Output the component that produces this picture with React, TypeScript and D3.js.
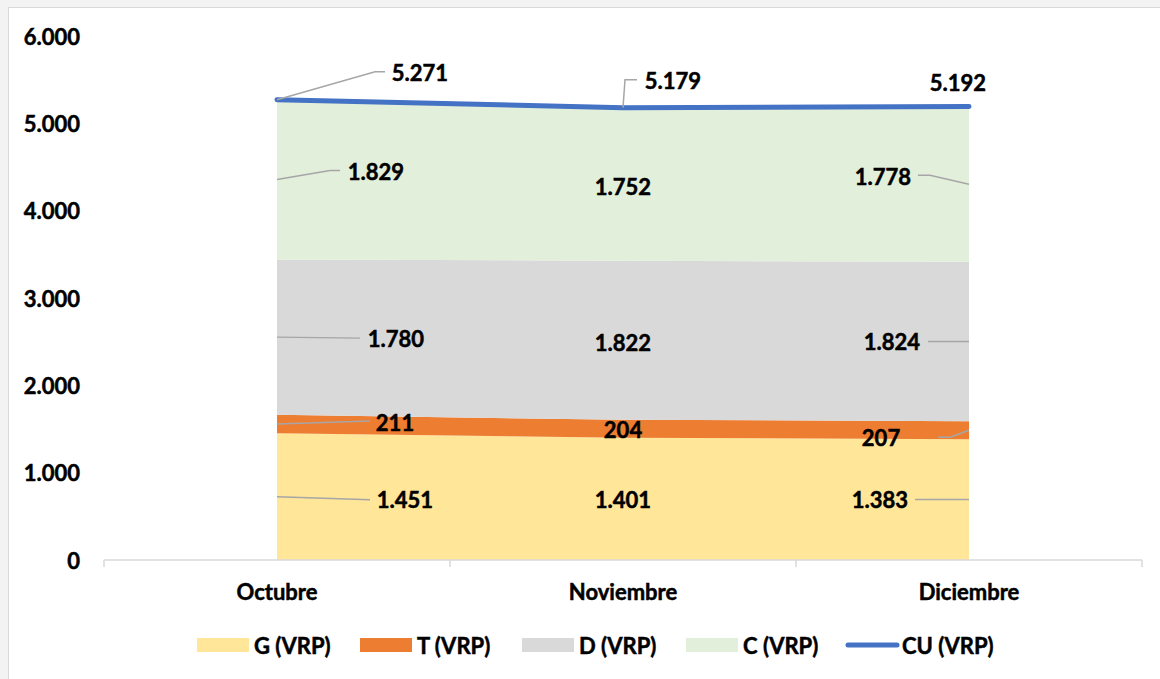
import React, { useEffect, useRef } from "react";
import * as d3 from "d3";

const categories = ["Octubre", "Noviembre", "Diciembre"];
const seriesNames = ["G (VRP)", "T (VRP)", "D (VRP)", "C (VRP)"];
const gValues = [1451, 1401, 1383];
const tValues = [211, 204, 207];
const dValues = [1780, 1822, 1824];
const cValues = [1829, 1752, 1778];
const cuValues = [5271, 5179, 5192];
const cuName = "CU (VRP)";
const yTicks = [0, 1000, 2000, 3000, 4000, 5000, 6000];

const areaColors = ["#FFE699", "#ED7D31", "#D9D9D9", "#E2EFDA"];
const lineColor = "#4472C4";

// label offsets relative to anchor (category x, segment middle y)
type LL = { dx: number; dy: number; leader: number[][] | null };
const labelLayout: LL[][] = [
  [
    { dx: 128, dy: 3, leader: [[0, 0], [93, 3]] },
    { dx: 0, dy: 1, leader: null },
    { dx: -89, dy: 0, leader: [[0, 0], [-54, 0]] },
  ],
  [
    { dx: 118, dy: -2, leader: [[0, 0], [93, -3]] },
    { dx: 0, dy: 1, leader: null },
    { dx: -88, dy: 7, leader: [[0, 0], [-19, 7], [-31, 7]] },
  ],
  [
    { dx: 119, dy: 1, leader: [[0, 0], [83, 1]] },
    { dx: 0, dy: 2, leader: null },
    { dx: -77, dy: 0, leader: [[0, 0], [-41, 0]] },
  ],
  [
    { dx: 99, dy: -8, leader: [[0, 0], [53, -9], [63, -9]] },
    { dx: 0, dy: 2, leader: null },
    { dx: -86, dy: -8, leader: [[0, 0], [-39, -9], [-51, -9]] },
  ],
];
const cuLabelLayout: LL[] = [
  { dx: 143, dy: -27, leader: [[0, 0], [98, -28], [108, -28]] },
  { dx: 50, dy: -27, leader: [[0, 0], [2, -28], [14, -28]] },
  { dx: -11, dy: -24, leader: null },
];

const W = 1160;
const H = 679;
const FONT = "Lato, 'Open Sans', sans-serif";

const fmt = (v: number) => {
  const s = Math.round(v).toString();
  return s.replace(/\B(?=(\d{3})+(?!\d))/g, ".");
};

const styleText = (sel: any) =>
  sel
    .attr("font-family", FONT)
    .attr("font-weight", 700)
    .attr("font-size", 22)
    .attr("fill", "#000")
    .attr("stroke", "#000")
    .attr("stroke-width", 0.5);

export default function App() {
  const ref = useRef<SVGSVGElement | null>(null);

  useEffect(() => {
    document.body.style.margin = "0";
    const svg = d3.select(ref.current);
    svg.selectAll("*").remove();

    // background frame
    svg.append("rect").attr("x", 0).attr("y", 0).attr("width", W).attr("height", H).attr("fill", "#f3f3f3");
    svg
      .append("rect")
      .attr("x", 8.5)
      .attr("y", 7.5)
      .attr("width", W)
      .attr("height", H)
      .attr("fill", "#ffffff")
      .attr("stroke", "#d9d9d9")
      .attr("stroke-width", 1);

    const x = d3.scaleBand<string>().domain(categories).range([104, 1142]).padding(0);
    const cx = (c: string) => (x(c) as number) + x.bandwidth() / 2;
    const y = d3.scaleLinear().domain([0, 6000]).range([560, 36]);

    // y tick labels
    svg
      .append("g")
      .selectAll("text")
      .data(yTicks)
      .join("text")
      .attr("x", 80)
      .attr("y", (d) => y(d))
      .attr("text-anchor", "end")
      .attr("dominant-baseline", "central")
      .call(styleText)
      .text((d) => fmt(d));

    // stacked areas
    const rows = categories.map((c, i) => ({
      cat: c,
      "G (VRP)": gValues[i],
      "T (VRP)": tValues[i],
      "D (VRP)": dValues[i],
      "C (VRP)": cValues[i],
    }));
    const stack = d3.stack<any>().keys(seriesNames);
    const stacked = stack(rows);
    const area = d3
      .area<any>()
      .x((d) => cx(d.data.cat))
      .y0((d) => y(d[0]))
      .y1((d) => y(d[1]));
    svg
      .append("g")
      .selectAll("path")
      .data(stacked)
      .join("path")
      .attr("d", (d) => area(d as any) as string)
      .attr("fill", (_, i) => areaColors[i]);

    // x axis line + ticks
    const ax = svg.append("g").attr("stroke", "#d9d9d9").attr("stroke-width", 1.5);
    ax.append("line").attr("x1", 104).attr("x2", 1142).attr("y1", 560).attr("y2", 560);
    const tickXs = [...categories.map((c) => x(c) as number), 1142];
    ax.selectAll("line.tk")
      .data(tickXs)
      .join("line")
      .attr("class", "tk")
      .attr("x1", (d) => d)
      .attr("x2", (d) => d)
      .attr("y1", 560)
      .attr("y2", 567);

    svg
      .append("g")
      .selectAll("text")
      .data(categories)
      .join("text")
      .attr("x", (d) => cx(d))
      .attr("y", 591)
      .attr("text-anchor", "middle")
      .attr("dominant-baseline", "central")
      .call(styleText)
      .text((d) => d);

    // CU line
    const line = d3
      .line<number>()
      .x((_, i) => cx(categories[i]))
      .y((d) => y(d));
    svg
      .append("path")
      .attr("d", line(cuValues) as string)
      .attr("fill", "none")
      .attr("stroke", lineColor)
      .attr("stroke-width", 5)
      .attr("stroke-linecap", "round")
      .attr("stroke-linejoin", "round");

    // labels
    const lg = svg.append("g");
    const drawLabel = (ax0: number, ay0: number, v: number, l: LL) => {
      if (l.leader) {
        lg.append("path")
          .attr("d", d3.line()(l.leader.map((p) => [ax0 + p[0], ay0 + p[1]]) as any) as string)
          .attr("fill", "none")
          .attr("stroke", "#a6a6a6")
          .attr("stroke-width", 1.5);
      }
      lg.append("text")
        .attr("x", ax0 + l.dx)
        .attr("y", ay0 + l.dy)
        .attr("text-anchor", "middle")
        .attr("dominant-baseline", "central")
        .call(styleText)
        .text(fmt(v));
    };
    stacked.forEach((s, si) => {
      s.forEach((d, ci) => {
        const v = d[1] - d[0];
        drawLabel(cx(categories[ci]), y((d[0] + d[1]) / 2), v, labelLayout[si][ci]);
      });
    });
    cuValues.forEach((v, ci) => {
      drawLabel(cx(categories[ci]), y(v), v, cuLabelLayout[ci]);
    });

    // legend
    const legendItems = [
      { name: seriesNames[0], color: areaColors[0], type: "rect", x: 197 },
      { name: seriesNames[1], color: areaColors[1], type: "rect", x: 360 },
      { name: seriesNames[2], color: areaColors[2], type: "rect", x: 522 },
      { name: seriesNames[3], color: areaColors[3], type: "rect", x: 686 },
      { name: cuName, color: lineColor, type: "line", x: 845 },
    ];
    const leg = svg.append("g");
    legendItems.forEach((it) => {
      if (it.type === "rect") {
        leg.append("rect").attr("x", it.x).attr("y", 638).attr("width", 52).attr("height", 14).attr("fill", it.color);
      } else {
        leg.append("line")
          .attr("x1", it.x + 3)
          .attr("x2", it.x + 52)
          .attr("y1", 645)
          .attr("y2", 645)
          .attr("stroke", it.color)
          .attr("stroke-width", 5)
          .attr("stroke-linecap", "round");
      }
      leg.append("text")
        .attr("x", it.x + 57)
        .attr("y", 645)
        .attr("dominant-baseline", "central")
        .call(styleText)
        .text(it.name);
    });
  }, []);

  return (
    <div style={{ position: "absolute", left: 0, top: 0, width: W, height: H }}>
      <svg ref={ref} width={W} height={H} style={{ display: "block" }} />
    </div>
  );
}
